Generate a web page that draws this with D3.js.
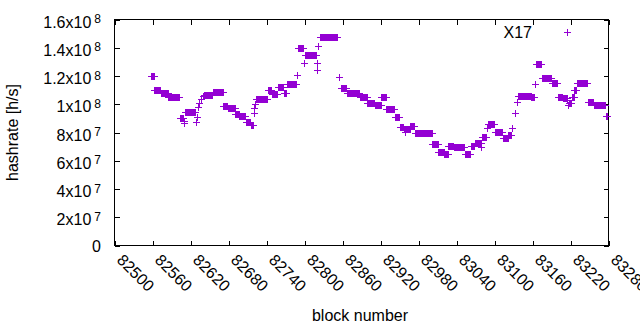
<!DOCTYPE html>
<html>
<head>
<meta charset="utf-8">
<script src="https://cdn.jsdelivr.net/npm/d3@7"></script>
<style>
body { margin: 0; background: #fff; }
text { font-family: "Liberation Sans", Arial, sans-serif; fill: #000; }
</style>
</head>
<body>
<div class="render"></div>
<script>
"use strict";

var width = 640;
var height = 330;

// plateaus: consecutive blocks sharing the same hashrate (units of 1e6 h/s)
var runStart = [82557, 82563, 82573, 82585, 82603, 82611, 82641, 82655, 82672, 82679, 82691, 82697, 82707, 82715,
   82723, 82742, 82748, 82758, 82767, 82772, 82775, 82790, 82800, 82824, 82857, 82867, 82887, 82899, 82911, 82921,
   82929, 82943, 82951, 82959, 82967, 82974, 83002, 83011, 83021, 83027, 83036, 83053, 83063, 83069, 83080, 83089,
   83100, 83113, 83122, 83137, 83158, 83165, 83175, 83190, 83200, 83208, 83217, 83222, 83226, 83230, 83247, 83257, 83276];
var runEnd = [82562, 82572, 82584, 82602, 82608, 82627, 82654, 82671, 82678, 82690, 82696, 82706, 82714, 82719,
   82740, 82747, 82757, 82766, 82771, 82774, 82787, 82798, 82818, 82852, 82866, 82886, 82898, 82910, 82920, 82928,
   82942, 82950, 82956, 82966, 82973, 83001, 83010, 83020, 83026, 83035, 83052, 83062, 83068, 83078, 83087, 83099,
   83112, 83121, 83126, 83157, 83163, 83174, 83189, 83199, 83207, 83214, 83221, 83225, 83229, 83246, 83256, 83275, 83278];
var runRate = [120, 110, 108.3, 104.9, 90, 94.3, 106.3, 108.4, 98.6, 97.1, 93.3, 91.5, 87.4, 85.1,
   103.5, 110, 107, 112, 108, 114, 114.3, 139.6, 134.7, 147.4, 111.5, 107.7, 105, 100.7, 99.8, 105,
   96.4, 90.8, 84.1, 82.3, 84.6, 80, 71.9, 66.4, 64.6, 70.4, 70, 64.6, 70.4, 72.6, 77, 85.8,
   80.6, 75.9, 78.2, 105.8, 105, 128.3, 118.8, 114.8, 105.3, 104.4, 100.7, 104.8, 110, 114.8, 101.8, 99.8, 91.7];

// blocks that stand on their own
var singleBlock = [82609, 82610, 82628, 82630, 82632, 82634, 82636, 82639, 82720, 82721, 82722, 82788, 82799,
   82819, 82820, 82821, 82854, 82957, 82958, 83079, 83088, 83128, 83132, 83135, 83164, 83215, 83216];
var singleRate = [88, 86.5, 87.7, 91, 98, 100.7, 103.5, 105.8, 93.5, 97.5, 100.5, 120.7, 129,
   124.3, 129, 141.2, 119, 82.3, 80.6, 70, 83, 83, 94, 101.4, 114, 103, 99.5];

var xTicks = [82500, 82560, 82620, 82680, 82740, 82800, 82860, 82920, 82980, 83040, 83100, 83160, 83220, 83280];
var yTicks = [0, 2e7, 4e7, 6e7, 8e7, 1e8, 1.2e8, 1.4e8, 1.6e8];
var yTickMant = ["0", "2", "4", "6", "8", "1", "1.2", "1.4", "1.6"];
var yTickExp = ["", "7", "7", "7", "7", "8", "8", "8", "8"];

var points = [];
runStart.forEach(function (s, i) {
   d3.range(s, runEnd[i] + 1).forEach(function (b) {
      points.push({ block: b, rate: runRate[i] * 1e6 });
   });
});
singleBlock.forEach(function (b, i) {
   points.push({ block: b, rate: singleRate[i] * 1e6 });
});

var x = d3.scaleLinear().domain([82500, 83280]).range([114.5, 608.5]);
var y = d3.scaleLinear().domain([0, 1.6e8]).range([245.5, 19.5]);

var svg = d3.select('.render').append('svg').attr('width', width).attr('height', height);
svg.append('rect').attr('width', width).attr('height', height).attr('fill', '#fff');

function ticksOnly(axis, tv) {
   return axis.tickValues(tv).tickSize(-5).tickFormat('');
}
function clean(g) {
   g.select('.domain').remove();
   g.selectAll('line').attr('stroke', '#000').attr('shape-rendering', 'crispEdges');
}
svg.append('g').attr('transform', 'translate(0,245.5)').call(ticksOnly(d3.axisBottom(x), xTicks)).call(clean);
svg.append('g').attr('transform', 'translate(0,19.5)').call(ticksOnly(d3.axisTop(x), xTicks)).call(clean);
svg.append('g').attr('transform', 'translate(114.5,0)').call(ticksOnly(d3.axisLeft(y), yTicks)).call(clean);
svg.append('g').attr('transform', 'translate(608.5,0)').call(ticksOnly(d3.axisRight(y), yTicks)).call(clean);

svg.append('rect').attr('x', 114.5).attr('y', 19.5).attr('width', 494).attr('height', 226)
   .attr('fill', 'none').attr('stroke', '#000').attr('shape-rendering', 'crispEdges');

// y tick labels with superscript exponents
var yl = svg.selectAll('.ylab').data(yTicks).enter().append('text').attr('class', 'ylab')
   .attr('text-anchor', 'end').attr('font-size', 16)
   .attr('x', 101)
   .attr('y', function (d, i) { return y(d) + (yTickExp[i] ? 8 : 6); });
yl.each(function (d, i) {
   var t = d3.select(this);
   t.append('tspan').text(yTickMant[i] + (yTickExp[i] ? 'x10' : ''));
   if (yTickExp[i]) {
      t.append('tspan').attr('dx', 3).attr('dy', -4.5).attr('font-size', 12).text(yTickExp[i]);
   }
});

// x tick labels, rotated
svg.selectAll('.xlab').data(xTicks).enter().append('text').attr('class', 'xlab')
   .attr('font-size', 16)
   .attr('transform', function (d) { return 'translate(' + (x(d) + 1.5) + ',261) rotate(45)'; })
   .text(function (d) { return d; });

svg.append('text').attr('x', 18).attr('y', 132.5).attr('font-size', 16).attr('text-anchor', 'middle')
   .attr('transform', 'rotate(-90,18,132.5)').text('hashrate [h/s]');
svg.append('text').attr('x', 360).attr('y', 321).attr('font-size', 16).attr('text-anchor', 'middle')
   .text('block number');

function plus(px, py) {
   px = Math.round(px) + 0.5;
   py = Math.round(py) + 0.5;
   return 'M' + (px - 3.5) + ',' + py + 'H' + (px + 3.5) + 'M' + px + ',' + (py - 3.5) + 'V' + (py + 3.5);
}

var purple = '#9400d3';
svg.append('path')
   .attr('d', points.map(function (d) { return plus(x(d.block), y(d.rate)); }).join(''))
   .attr('fill', 'none').attr('stroke', purple).attr('stroke-width', 1).attr('shape-rendering', 'crispEdges');

// key
svg.append('text').attr('x', 532).attr('y', 37.5).attr('font-size', 16).attr('text-anchor', 'end').text('X17');
svg.append('path').attr('d', plus(567, 32))
   .attr('fill', 'none').attr('stroke', purple).attr('stroke-width', 1).attr('shape-rendering', 'crispEdges');
</script>
</body>
</html>
